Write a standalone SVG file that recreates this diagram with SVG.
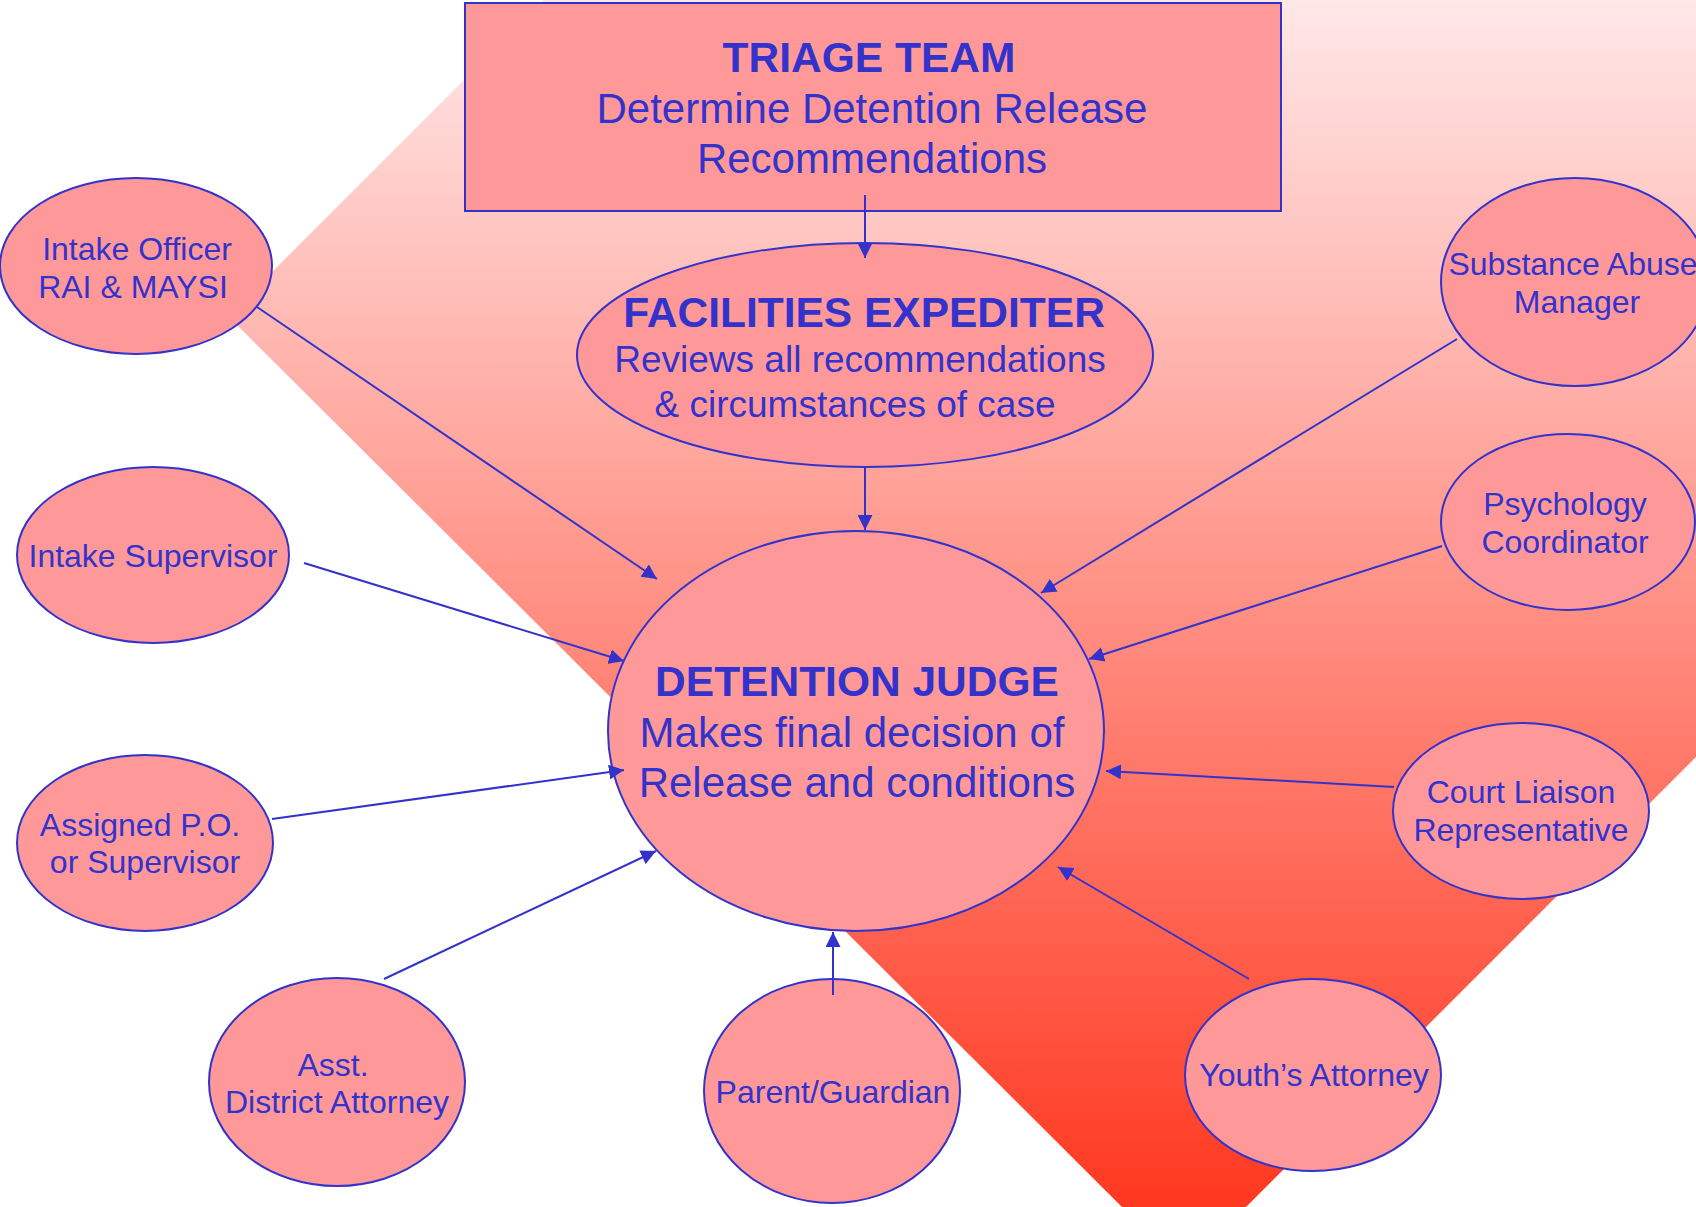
<svg xmlns="http://www.w3.org/2000/svg" width="1696" height="1207" viewBox="0 0 1696 1207">
<defs>
<linearGradient id="bg" gradientUnits="userSpaceOnUse" x1="0" y1="0" x2="0" y2="1207">
<stop offset="0" stop-color="#FFE8E8"/>
<stop offset="1" stop-color="#FF3820"/>
</linearGradient>
<marker id="arr" viewBox="0 0 15 15" refX="15" refY="7.5" markerWidth="15" markerHeight="15" markerUnits="userSpaceOnUse" orient="auto">
<path d="M0,0 L15,7.5 L0,15 z" fill="#3333CC"/>
</marker>
</defs>
<style>
.n{fill:#FF9999;stroke:#3333CC;stroke-width:2}
.t{font-family:"Liberation Sans",Arial,sans-serif;fill:#3333CC;text-anchor:middle}
.b{font-weight:bold;font-size:42.5px}
.r{font-size:42px}
.m{font-size:37px}
.s{font-size:32px}
.c{stroke:#3333CC;stroke-width:2;fill:none;marker-end:url(#arr)}
</style>
<rect x="0" y="0" width="1696" height="1207" fill="#FFFFFF"/>
<polygon points="544,0 1696,0 1696,757 1246,1207 1122,1207 228,316" fill="url(#bg)"/>

<g id="triage">
<rect x="465" y="3" width="816" height="208" class="n" stroke-width="2.5"/>
<text class="t b" x="869" y="72">TRIAGE TEAM</text>
<text class="t r" x="872" y="123">Determine Detention Release</text>
<text class="t r" x="872" y="173">Recommendations</text>
</g>

<g id="facilities">
<ellipse cx="865" cy="355" rx="288" ry="112" class="n"/>
<text class="t b" x="864" y="327">FACILITIES EXPEDITER</text>
<text class="t m" x="860" y="372">Reviews all recommendations</text>
<text class="t m" x="855" y="417">&amp; circumstances of case</text>
</g>

<g id="judge">
<ellipse cx="856" cy="731" rx="248" ry="200" class="n"/>
<text class="t b" x="857" y="696">DETENTION JUDGE</text>
<text class="t r" x="852" y="747">Makes final decision of</text>
<text class="t r" x="857" y="797">Release and conditions</text>
</g>

<g id="intake-officer">
<ellipse cx="136" cy="266" rx="136" ry="88" class="n"/>
<text class="t s" x="137" y="260">Intake Officer</text>
<text class="t s" x="133" y="298">RAI &amp; MAYSI</text>
</g>

<g id="intake-supervisor">
<ellipse cx="153" cy="555" rx="136" ry="88" class="n"/>
<text class="t s" x="153" y="567">Intake Supervisor</text>
</g>

<g id="assigned-po">
<ellipse cx="145" cy="843" rx="128" ry="88" class="n"/>
<text class="t s" x="140" y="836">Assigned P.O.</text>
<text class="t s" x="145" y="873">or Supervisor</text>
</g>

<g id="asst-da">
<ellipse cx="337" cy="1082" rx="128" ry="104" class="n"/>
<text class="t s" x="333" y="1076">Asst.</text>
<text class="t s" x="337" y="1113">District Attorney</text>
</g>

<g id="parent">
<ellipse cx="832" cy="1091" rx="128" ry="112" class="n"/>
<text class="t s" x="833" y="1103">Parent/Guardian</text>
</g>

<g id="youth-attorney">
<ellipse cx="1313" cy="1075" rx="128" ry="96" class="n"/>
<text class="t s" x="1314" y="1086">Youth’s Attorney</text>
</g>

<g id="court-liaison">
<ellipse cx="1521" cy="811" rx="128" ry="88" class="n"/>
<text class="t s" x="1521" y="803">Court Liaison</text>
<text class="t s" x="1521" y="841">Representative</text>
</g>

<g id="psychology">
<ellipse cx="1568" cy="522" rx="127" ry="88" class="n"/>
<text class="t s" x="1565" y="515">Psychology</text>
<text class="t s" x="1565" y="553">Coordinator</text>
</g>

<g id="substance-abuse">
<ellipse cx="1575" cy="282" rx="134" ry="104" class="n"/>
<text class="t s" x="1573" y="275">Substance Abuse</text>
<text class="t s" x="1577" y="313">Manager</text>
</g>

<g id="connectors">
<line class="c" x1="865" y1="195" x2="865" y2="258"/>
<line class="c" x1="865" y1="467" x2="865" y2="530"/>
<line class="c" x1="257" y1="307" x2="657" y2="579"/>
<line class="c" x1="304" y1="563" x2="624" y2="661"/>
<line class="c" x1="272" y1="819" x2="624" y2="770"/>
<line class="c" x1="384" y1="979" x2="656" y2="851"/>
<line class="c" x1="833" y1="995" x2="833" y2="932"/>
<line class="c" x1="1249" y1="979" x2="1058" y2="867"/>
<line class="c" x1="1394" y1="787" x2="1106" y2="771"/>
<line class="c" x1="1442" y1="546" x2="1089" y2="659"/>
<line class="c" x1="1457" y1="339" x2="1041" y2="593"/>
</g>
</svg>
